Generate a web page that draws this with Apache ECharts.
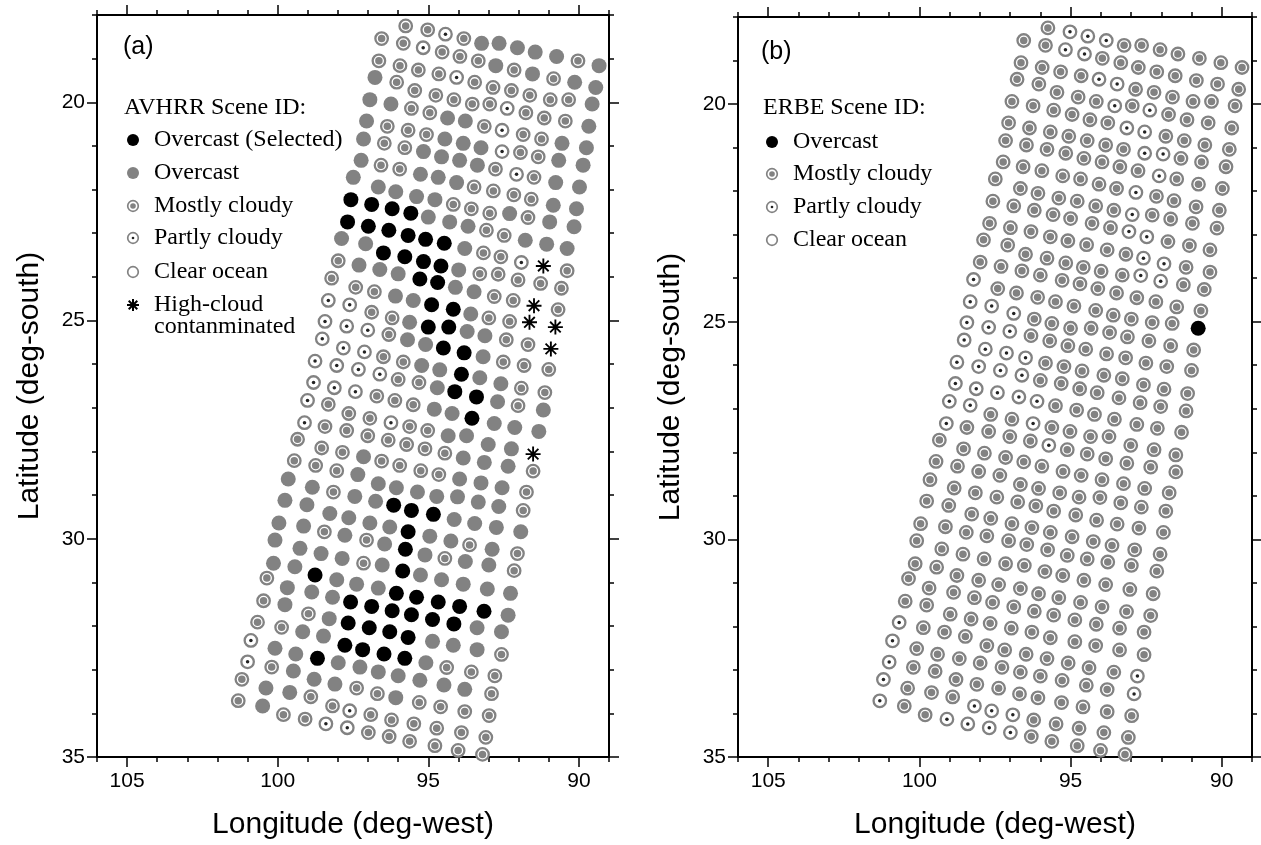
<!DOCTYPE html>
<html>
<head>
<meta charset="utf-8">
<title>AVHRR and ERBE scene identification</title>
<script src="https://cdn.jsdelivr.net/npm/echarts@6/dist/echarts.min.js"></script>
<style>
  html, body { margin: 0; padding: 0; background: #fff; }
  #chart { width: 1261px; height: 845px; }
</style>
</head>
<body>
<div id="chart"></div>
<script>
// footprint centres, one list per scan row (deg west, deg south); both panels share them
const lonRows = [
  [95.75, 95.02, 94.43, 93.82, 93.23, 92.65, 92.04, 91.45, 90.74, 90.03, 89.33],
  [96.55, 95.83, 95.17, 94.54, 93.95, 93.34, 92.76, 92.15, 91.54, 90.84, 90.14, 89.44],
  [96.64, 95.94, 95.33, 94.65, 94.06, 93.46, 92.85, 92.24, 91.63, 90.95, 90.34, 89.56],
  [96.77, 96.05, 95.45, 94.75, 94.15, 93.54, 92.96, 92.38, 91.76, 91.15, 90.45, 89.67],
  [96.94, 96.24, 95.56, 94.95, 94.36, 93.77, 93.14, 92.55, 91.85, 91.24, 90.56, 89.75],
  [97.05, 96.36, 95.67, 95.06, 94.45, 93.84, 93.25, 92.55, 91.94, 91.35, 90.67, 89.86],
  [97.15, 96.46, 95.78, 95.16, 94.56, 93.96, 93.37, 92.77, 92.07, 91.49, 90.77, 89.98],
  [97.23, 96.57, 95.95, 95.26, 94.67, 94.06, 93.48, 92.84, 92.16, 91.58, 90.85, 90.08],
  [97.49, 96.66, 96.08, 95.39, 94.78, 94.17, 93.57, 92.96, 92.30, 91.69, 90.97, 90.16],
  [97.57, 96.88, 96.20, 95.58, 95.00, 94.29, 93.68, 93.07, 92.48, 91.78, 91.07, 90.39],
  [97.68, 96.99, 96.31, 95.67, 95.09, 94.47, 93.79, 93.17, 92.59, 91.91, 91.18, 90.39],
  [97.88, 97.08, 96.49, 95.78, 95.16, 94.58, 93.99, 93.29, 92.68, 92.02, 91.27, 90.58],
  [97.99, 97.30, 96.61, 96.00, 95.28, 94.69, 94.10, 93.48, 92.81, 92.18, 91.49, 90.69],
  [98.21, 97.41, 96.79, 96.09, 95.50, 94.89, 94.17, 93.59, 92.99, 92.30, 91.64, 90.78],
  [98.32, 97.61, 96.88, 96.20, 95.62, 95.00, 94.32, 93.71, 93.12, 92.41, 91.69, 90.93],
  [98.43, 97.71, 97.01, 96.31, 95.69, 95.09, 94.50, 93.81, 93.18, 92.51, 91.82, 91.00],
  [98.52, 97.82, 97.12, 96.49, 95.83, 95.22, 94.62, 93.90, 93.29, 92.59, 91.91, 91.13],
  [98.76, 98.04, 97.32, 96.61, 96.00, 95.31, 94.70, 94.12, 93.40, 92.70, 92.02, 91.18],
  [98.81, 98.12, 97.42, 96.71, 96.11, 95.50, 94.80, 94.21, 93.55, 92.81, 92.13, 91.33],
  [99.01, 98.32, 97.64, 96.94, 96.24, 95.62, 95.02, 94.34, 93.73, 93.01, 92.24, 91.52],
  [99.11, 98.43, 97.71, 97.01, 96.33, 95.72, 95.11, 94.45, 93.84, 93.14, 92.35, 91.52],
  [99.34, 98.54, 97.85, 97.15, 96.55, 95.95, 95.25, 94.65, 93.96, 93.25, 92.55, 91.74],
  [99.45, 98.74, 98.04, 97.34, 96.66, 96.06, 95.36, 94.72, 94.03, 93.34, 92.66, 91.85],
  [99.65, 98.85, 98.15, 97.44, 96.75, 96.15, 95.56, 94.83, 94.14, 93.46, 92.74, 91.93],
  [99.76, 99.03, 98.27, 97.64, 96.94, 96.28, 95.67, 94.95, 94.25, 93.63, 92.88, 92.04],
  [99.96, 99.14, 98.45, 97.77, 97.05, 96.45, 95.76, 95.11, 94.45, 93.77, 92.99, 92.15],
  [100.09, 99.26, 98.56, 97.86, 97.15, 96.53, 95.85, 95.26, 94.56, 93.84, 93.04, 92.27],
  [100.14, 99.43, 98.76, 98.04, 97.38, 96.66, 96.06, 95.39, 94.67, 93.96, 93.15, 92.35],
  [100.36, 99.68, 98.87, 98.18, 97.58, 96.88, 96.20, 95.56, 94.86, 94.15, 93.38, 92.57],
  [100.47, 99.76, 98.98, 98.29, 97.66, 96.96, 96.28, 95.67, 94.86, 94.17, 93.38, 92.57],
  [100.67, 99.87, 99.17, 98.48, 97.77, 97.18, 96.47, 95.78, 95.08, 94.39, 93.57, 92.79],
  [100.89, 100.09, 99.40, 98.68, 97.99, 97.27, 96.66, 96.00, 95.28, 94.48, 93.79, 92.90],
  [101.00, 100.20, 99.48, 98.79, 98.10, 97.38, 96.69, 96.08, 95.30, 94.59, 93.79, 92.98],
  [101.19, 100.39, 99.60, 98.90, 98.18, 97.61, 96.91, 96.22, 95.48, 94.72, 93.90, 93.09],
  [101.31, 100.50, 99.81, 99.09, 98.40, 97.69, 96.99, 96.30, 95.62, 94.78, 94.01, 93.20],
];
const latRows = [
  [18.25, 18.34, 18.44, 18.54, 18.65, 18.65, 18.75, 18.85, 18.95, 19.05, 19.16],
  [18.54, 18.65, 18.75, 18.85, 18.95, 19.05, 19.16, 19.26, 19.35, 19.46, 19.54, 19.66],
  [19.05, 19.16, 19.26, 19.35, 19.43, 19.54, 19.66, 19.73, 19.84, 19.94, 19.94, 20.04],
  [19.43, 19.54, 19.73, 19.84, 19.94, 20.04, 20.04, 20.14, 20.24, 20.36, 20.43, 20.55],
  [19.94, 20.04, 20.14, 20.24, 20.36, 20.43, 20.55, 20.64, 20.74, 20.84, 20.94, 21.04],
  [20.43, 20.55, 20.64, 20.74, 20.84, 20.94, 21.04, 21.13, 21.15, 21.25, 21.33, 21.44],
  [20.84, 20.94, 21.04, 21.13, 21.25, 21.33, 21.44, 21.53, 21.65, 21.72, 21.84, 21.94],
  [21.33, 21.44, 21.53, 21.65, 21.72, 21.84, 21.94, 22.03, 22.12, 22.22, 22.36, 22.44],
  [21.72, 21.94, 22.05, 22.16, 22.23, 22.34, 22.44, 22.54, 22.55, 22.64, 22.74, 22.85],
  [22.23, 22.34, 22.44, 22.54, 22.63, 22.74, 22.84, 22.93, 23.05, 23.16, 23.25, 23.35],
  [22.74, 22.84, 22.93, 23.05, 23.14, 23.23, 23.35, 23.45, 23.54, 23.67, 23.75, 23.86],
  [23.12, 23.24, 23.45, 23.54, 23.65, 23.75, 23.84, 23.93, 23.94, 24.07, 24.15, 24.26],
  [23.63, 23.73, 23.83, 23.93, 24.05, 24.13, 24.24, 24.34, 24.45, 24.54, 24.66, 24.75],
  [24.03, 24.24, 24.34, 24.44, 24.54, 24.64, 24.74, 24.85, 24.94, 25.02, 25.04, 25.15],
  [24.54, 24.64, 24.81, 24.94, 25.04, 25.15, 25.15, 25.25, 25.35, 25.44, 25.55, 25.65],
  [25.02, 25.13, 25.22, 25.32, 25.44, 25.55, 25.63, 25.74, 25.83, 25.95, 26.03, 26.12],
  [25.42, 25.63, 25.72, 25.83, 25.95, 26.03, 26.13, 26.23, 26.31, 26.45, 26.55, 26.65],
  [25.93, 26.03, 26.12, 26.23, 26.35, 26.42, 26.54, 26.63, 26.75, 26.86, 26.95, 27.05],
  [26.42, 26.54, 26.63, 26.73, 26.83, 26.93, 27.03, 27.13, 27.24, 27.36, 27.45, 27.54],
  [26.83, 26.92, 27.13, 27.24, 27.34, 27.43, 27.52, 27.64, 27.64, 27.84, 27.94, 28.06],
  [27.34, 27.43, 27.52, 27.64, 27.74, 27.84, 27.94, 28.04, 28.15, 28.25, 28.34, 28.45],
  [27.72, 27.92, 28.02, 28.12, 28.22, 28.32, 28.44, 28.53, 28.63, 28.72, 28.83, 28.93],
  [28.21, 28.32, 28.44, 28.53, 28.74, 28.83, 28.93, 29.03, 29.04, 29.16, 29.26, 29.35],
  [28.63, 28.82, 28.93, 29.03, 29.14, 29.23, 29.35, 29.44, 29.56, 29.65, 29.74, 29.84],
  [29.12, 29.22, 29.42, 29.52, 29.64, 29.73, 29.84, 29.94, 30.05, 30.14, 30.24, 30.34],
  [29.64, 29.71, 29.84, 29.92, 30.03, 30.12, 30.24, 30.37, 30.45, 30.52, 30.60, 30.73],
  [30.03, 30.22, 30.34, 30.45, 30.56, 30.60, 30.74, 30.83, 30.94, 31.04, 31.15, 31.25],
  [30.56, 30.64, 30.83, 30.94, 31.04, 31.13, 31.25, 31.34, 31.45, 31.55, 31.66, 31.75],
  [30.90, 31.12, 31.22, 31.34, 31.45, 31.55, 31.65, 31.74, 31.85, 31.95, 32.04, 32.13],
  [31.42, 31.51, 31.72, 31.83, 31.93, 32.04, 32.13, 32.26, 32.35, 32.44, 32.54, 32.65],
  [31.91, 32.03, 32.13, 32.23, 32.44, 32.54, 32.64, 32.74, 32.84, 32.95, 33.05, 33.14],
  [32.33, 32.51, 32.64, 32.74, 32.84, 32.94, 33.05, 33.14, 33.24, 33.35, 33.45, 33.55],
  [32.82, 32.94, 33.03, 33.22, 33.33, 33.42, 33.55, 33.64, 33.75, 33.85, 33.96, 34.05],
  [33.22, 33.42, 33.52, 33.62, 33.83, 33.94, 34.03, 34.15, 34.24, 34.34, 34.44, 34.55],
  [33.71, 33.83, 34.03, 34.13, 34.24, 34.33, 34.44, 34.53, 34.64, 34.74, 34.85, 34.94],
];
// scene codes per footprint: K black disc (AVHRR overcast selected / ERBE overcast),
// O grey disc (overcast), M mostly cloudy, P partly cloudy, C clear ocean, H high-cloud
const avhrrRows = [
  "MMPMOOOOOMO",
  "MMPMMMOMOMOO",
  "MMMMPMMMMMMO",
  "OMMMMMMPMMMO",
  "OOMMOOMPMMOO",
  "OMMMOOOPMMOO",
  "OMMOOOOMPMOO",
  "OMMOOOMMMMOO",
  "OOOOOMMMOMOO",
  "KKKKOOOMMOOO",
  "KKKKKKOMMPHM",
  "OOKKKKOMMMMM",
  "MOOOKKOOMMHM",
  "MMMOOKKOMMHH",
  "PPMMOKKOOMMH",
  "PPPMOOKKOMMM",
  "PPPMMOOKOOMM",
  "PPPPMMOKKOMO",
  "PPPMMMOOKOOO",
  "PMMMPMMOOOOH",
  "PMMMMMMMOOOM",
  "MMMOMMMMOOOM",
  "MMMOOOOOOOOM",
  "OOMOOKKKOOOO",
  "OOOOOOKOOMOM",
  "OOMOMOKOMOOM",
  "OOOOMOKOOOOO",
  "OOKOOOKKKKKO",
  "MOOOKKKKKKOO",
  "MOMOKKKKOOOM",
  "MMOOKKKKOMMM",
  "POOKOOOOOOOM",
  "PMOOOMMOMMMM",
  "MOOMMPMMMMMM",
  "MOMMPPMMMMMM",
];
const erbeRows = [
  "MPPPMMMMMMM",
  "MMPPMMMMMMMM",
  "MMMMPPMMMMMM",
  "MMMMMPMPMMMM",
  "MMMMMMPPMMMM",
  "MMMMMMMPPMMM",
  "MMMMMMMMPMMM",
  "MMMMMMMPMMMM",
  "MMMMMMMPMMMM",
  "MMMMMMMPPMMM",
  "MMMMMMMMPPMM",
  "MMMMMMMMPPMM",
  "MMMMMMMMMMMM",
  "PMMMMMMMMMMK",
  "PPPMMMMMMMMM",
  "PPPMMMMMMMMM",
  "PPPPMMMMMMMM",
  "PPPPMMMMMMMM",
  "PPPPPMMMMMMM",
  "PPMMPMMMMMMM",
  "PMMMMPMMMMMM",
  "MMMMMMMMMMMM",
  "MMMMMMMMMMMM",
  "MMMMMMMMMMMM",
  "MMMMMMMMMMMM",
  "MMMMMMMMMMMM",
  "MMMMMMMMMMMM",
  "MMMMMMMMMMMM",
  "MMMMMMMMMMMM",
  "MMMMMMMMMMMM",
  "PMMMMMMMMMMP",
  "PMMMMMMMMMMP",
  "PMMMMMMMMMMM",
  "PMMMPPPMMMMM",
  "PMMPPPPMMMMM",
];

const lonMajor = [90, 95, 100, 105];
const latMajor = [20, 25, 30, 35];

const GREY = "#828282";
const STAR = "path://M-1,-8L1,-8L1,8L-1,8Z M-8,-1L8,-1L8,1L-8,1Z M-4.95,-6.36L6.36,4.95L4.95,6.36L-6.36,-4.95Z M4.95,-6.36L6.36,-4.95L-4.95,6.36L-6.36,4.95Z";

function pointsFor(rows, codes) {
  const out = [];
  rows.forEach((row, r) => {
    for (let i = 0; i < row.length; i++) {
      if (codes.includes(row[i])) out.push([lonRows[r][i], latRows[r][i]]);
    }
  });
  return out;
}

function sceneSeries(panel, rows) {
  const base = { type: "scatter", xAxisIndex: panel * 4, yAxisIndex: panel * 4, silent: true };
  return [
    { ...base, symbol: "circle", symbolSize: 15, itemStyle: { color: GREY, opacity: 1 }, data: pointsFor(rows, "O") },
    { ...base, symbol: "circle", symbolSize: 15, itemStyle: { color: "#000", opacity: 1 }, data: pointsFor(rows, "K") },
    {
      ...base, symbol: "circle", symbolSize: 12.5,
      itemStyle: { color: "#fff", borderColor: GREY, borderWidth: 2.3, opacity: 1 },
      data: pointsFor(rows, "MPC"),
    },
    { ...base, symbol: "circle", symbolSize: 7.5, itemStyle: { color: GREY, opacity: 1 }, data: pointsFor(rows, "M") },
    { ...base, symbol: "circle", symbolSize: 3.5, itemStyle: { color: "#222", opacity: 1 }, data: pointsFor(rows, "P") },
    { ...base, symbol: STAR, symbolSize: 15, itemStyle: { color: "#000", opacity: 1 }, data: pointsFor(rows, "H") },
  ];
}

const tickLine = { color: "#000", width: 1.5 };
const axisFont = { color: "#000", fontSize: 21, fontFamily: "Liberation Sans" };
const nameFont = { color: "#000", fontSize: 30, fontFamily: "Liberation Sans" };

function xAxes(grid) {
  const common = {
    gridIndex: grid, type: "value", min: 89, max: 106, inverse: true,
    splitLine: { show: false },
  };
  const major = {
    axisLine: { show: true, onZero: false, lineStyle: { color: "#000", width: 2 } },
    axisTick: { show: true, customValues: lonMajor, length: 10, lineStyle: tickLine },
  };
  const minor = {
    interval: 1,
    axisLine: { show: false },
    axisTick: { show: true, length: 5, lineStyle: tickLine },
    axisLabel: { show: false },
  };
  return [
    {
      ...common, ...major, position: "bottom",
      axisLabel: { show: true, customValues: lonMajor, margin: 14, ...axisFont },
      name: "Longitude (deg-west)", nameLocation: "middle", nameGap: 53, nameTextStyle: nameFont,
    },
    { ...common, ...minor, position: "bottom" },
    { ...common, ...major, position: "top", axisLabel: { show: false } },
    { ...common, ...minor, position: "top" },
  ];
}

function yAxes(grid) {
  const common = {
    gridIndex: grid, type: "value", min: 18, max: 35, inverse: true,
    splitLine: { show: false },
  };
  const major = {
    axisLine: { show: true, onZero: false, lineStyle: { color: "#000", width: 2 } },
    axisTick: { show: true, customValues: latMajor, length: 10, lineStyle: tickLine },
  };
  const minor = {
    interval: 1,
    axisLine: { show: false },
    axisTick: { show: true, length: 5, lineStyle: tickLine },
    axisLabel: { show: false },
  };
  return [
    {
      ...common, ...major, position: "left",
      axisLabel: { show: true, customValues: latMajor, margin: 12, ...axisFont },
      name: "Latitude (deg-south)", nameLocation: "middle", nameGap: 52, nameTextStyle: nameFont,
    },
    { ...common, ...minor, position: "left" },
    { ...common, ...major, position: "right", axisLabel: { show: false } },
    { ...common, ...minor, position: "right" },
  ];
}

// legend drawn as graphics, symbols mimic the scatter markers
const serif = "24px 'Liberation Serif'";
function legendSymbol(code, cx, cy) {
  if (code === "K" || code === "O") {
    return [{ type: "circle", shape: { cx, cy, r: 6 }, style: { fill: code === "K" ? "#000" : GREY } }];
  }
  if (code === "H") {
    // eight-armed asterisk from four crossing strokes
    const d = 6, e = 4.3;
    return [
      [0, -d, 0, d], [-d, 0, d, 0], [-e, -e, e, e], [e, -e, -e, e],
    ].map(([x1, y1, x2, y2]) => ({
      type: "line",
      shape: { x1: cx + x1, y1: cy + y1, x2: cx + x2, y2: cy + y2 },
      style: { stroke: "#000", lineWidth: 2 },
    }));
  }
  const items = [{ type: "circle", shape: { cx, cy, r: 5.3 }, style: { fill: "#fff", stroke: GREY, lineWidth: 1.7 } }];
  if (code === "M") items.push({ type: "circle", shape: { cx, cy, r: 2.8 }, style: { fill: GREY } });
  if (code === "P") items.push({ type: "circle", shape: { cx, cy, r: 1.3 }, style: { fill: "#222" } });
  return items;
}
function legendBlock(title, x, y, entries) {
  const els = [{ type: "text", x, y, style: { text: title, font: serif, fill: "#000", verticalAlign: "middle" } }];
  entries.forEach(([code, label, ey]) => {
    els.push(...legendSymbol(code, x + 9, ey));
    els.push({ type: "text", x: x + 30, y: ey, style: { text: label, font: serif, fill: "#000", verticalAlign: "middle" } });
  });
  return els;
}

const graphics = [
  { type: "text", x: 123, y: 47, style: { text: "(a)", font: "25px 'Liberation Sans'", fill: "#000", verticalAlign: "middle" } },
  { type: "text", x: 761, y: 52, style: { text: "(b)", font: "25px 'Liberation Sans'", fill: "#000", verticalAlign: "middle" } },
  ...legendBlock("AVHRR Scene ID:", 124, 108, [
    ["K", "Overcast (Selected)", 140],
    ["O", "Overcast", 173],
    ["M", "Mostly cloudy", 206],
    ["P", "Partly cloudy", 238],
    ["C", "Clear ocean", 272],
    ["H", "High-cloud", 305],
  ]),
  { type: "text", x: 154, y: 327, style: { text: "contanminated", font: serif, fill: "#000", verticalAlign: "middle" } },
  ...legendBlock("ERBE Scene ID:", 763, 108, [
    ["K", "Overcast", 142],
    ["M", "Mostly cloudy", 174],
    ["P", "Partly cloudy", 207],
    ["C", "Clear ocean", 240],
  ]),
];

const chart = echarts.init(document.getElementById("chart"), null, { renderer: "canvas" });
chart.setOption({
  animation: false,
  backgroundColor: "#fff",
  grid: [
    { left: 97, top: 15, width: 512, height: 747 },
    { left: 738, top: 17, width: 514, height: 748 },
  ],
  xAxis: [...xAxes(0), ...xAxes(1)],
  yAxis: [...yAxes(0), ...yAxes(1)],
  graphic: graphics,
  series: [...sceneSeries(0, avhrrRows), ...sceneSeries(1, erbeRows)],
});
</script>
</body>
</html>
